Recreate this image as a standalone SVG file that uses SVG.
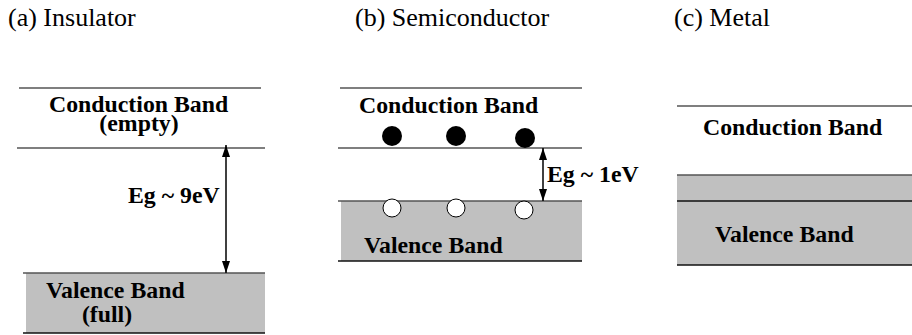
<svg xmlns="http://www.w3.org/2000/svg" width="912" height="335" viewBox="0 0 912 335">
<defs>
<marker id="ah" viewBox="0 0 12 8" refX="12" refY="4" markerWidth="12" markerHeight="8" markerUnits="userSpaceOnUse" orient="auto-start-reverse">
<path d="M0,0 L12,4 L0,8 Z" fill="#000"/>
</marker>
</defs>
<rect width="912" height="335" fill="#fff"/>
<g font-family="Liberation Serif" font-size="26" fill="#000">
<g id="title-a"><text x="8" y="26">(a) Insulator</text></g>
<g id="title-b"><text x="355" y="26">(b) Semiconductor</text></g>
<g id="title-c"><text x="674" y="26">(c) Metal</text></g>
</g>
<g font-family="Liberation Serif" font-size="23.8" font-weight="bold" stroke-width="1.3">
<g id="a-conduction">
<line x1="19" y1="88" x2="261" y2="88" stroke="#555"/>
<line x1="17" y1="148" x2="265" y2="148" stroke="#555"/>
<text x="49" y="112">Conduction Band</text>
<text x="139" y="131" text-anchor="middle">(empty)</text>
</g>
<g id="a-valence">
<rect x="26" y="273" width="239" height="60" fill="#c0c0c0"/>
<line x1="23" y1="273" x2="265" y2="273" stroke="#555"/>
<line x1="23" y1="333" x2="265" y2="333" stroke="#111"/>
<text x="46" y="298">Valence Band</text>
<text x="107" y="322" text-anchor="middle">(full)</text>
</g>
<g id="a-gap"><text x="128" y="203">Eg ~ 9eV</text></g>

<g id="b-conduction">
<line x1="340" y1="88" x2="582" y2="88" stroke="#555"/>
<line x1="338" y1="148" x2="582" y2="148" stroke="#555"/>
<text x="359" y="113">Conduction Band</text>
<g fill="#000">
<circle cx="392" cy="136" r="10"/>
<circle cx="456" cy="136" r="10"/>
<circle cx="525" cy="138" r="10"/>
</g>
</g>
<g id="b-valence">
<rect x="341" y="201" width="241" height="60" fill="#c0c0c0"/>
<line x1="338" y1="201" x2="582" y2="201" stroke="#555"/>
<line x1="338" y1="261" x2="582" y2="261" stroke="#111"/>
<g fill="#fff" stroke="#000" stroke-width="1">
<circle cx="392" cy="208" r="9"/>
<circle cx="456" cy="208" r="9"/>
<circle cx="524" cy="210" r="9"/>
</g>
<text x="364" y="253">Valence Band</text>
</g>
<g id="b-gap"><text x="547" y="182">Eg ~ 1eV</text></g>

<g id="c-conduction">
<line x1="677" y1="106" x2="912" y2="106" stroke="#555"/>
<text x="703" y="135">Conduction Band</text>
</g>
<g id="c-valence">
<rect x="677" y="175" width="235" height="90" fill="#c0c0c0"/>
<line x1="677" y1="175" x2="912" y2="175" stroke="#555"/>
<line x1="677" y1="201" x2="912" y2="201" stroke="#111"/>
<line x1="677" y1="265" x2="912" y2="265" stroke="#111"/>
<text x="715" y="242">Valence Band</text>
</g>
</g>
<g id="connectors" stroke="#000" stroke-width="1.5" fill="none" marker-start="url(#ah)" marker-end="url(#ah)">
<line x1="226" y1="145" x2="226" y2="273"/>
<line x1="543" y1="148" x2="543" y2="201"/>
</g>
</svg>
